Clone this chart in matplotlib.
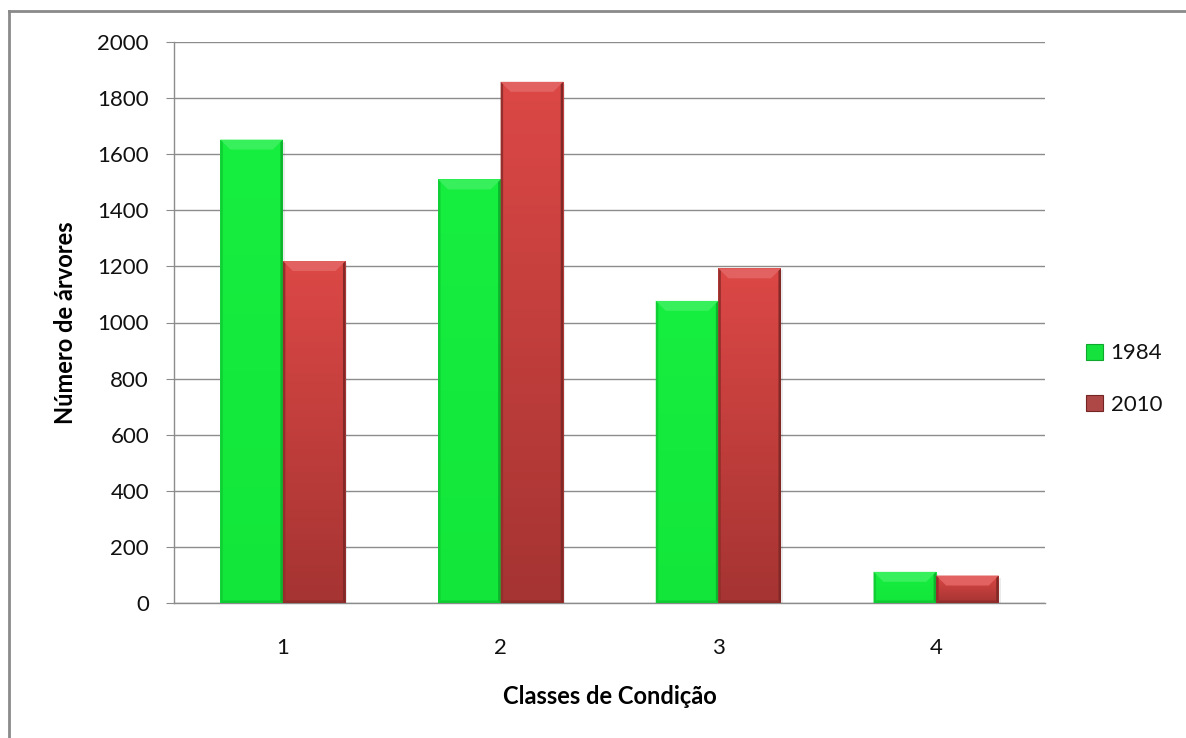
import numpy as np
import matplotlib
matplotlib.use("Agg")
import matplotlib.pyplot as plt
from matplotlib.patches import Polygon, Rectangle
from matplotlib.lines import Line2D

# Data
categories = ["1", "2", "3", "4"]
years = ["1984", "2010"]
values_1984 = [1652, 1510, 1077, 111]
values_2010 = [1219, 1858, 1193, 98]
yticks = [0, 200, 400, 600, 800, 1000, 1200, 1400, 1600, 1800, 2000]

plt.rcParams["font.family"] = ["Lato", "DejaVu Sans"]

W, H, DPI = 1186, 738, 100
fig = plt.figure(figsize=(W / DPI, H / DPI), dpi=DPI)
fig.patch.set_facecolor("white")

left, right, top, bottom = 174, 1045, 42, 603
ax = fig.add_axes([left / W, 1 - bottom / H, (right - left) / W, (bottom - top) / H])

x = np.arange(1, len(categories) + 1)
bw = 0.2875
ax.set_xlim(0.5, len(categories) + 0.5)
ax.set_ylim(0, 2000)

# pixel -> data conversion
px_x = (ax.get_xlim()[1] - ax.get_xlim()[0]) / (right - left)
px_y = (ax.get_ylim()[1] - ax.get_ylim()[0]) / (bottom - top)

styles = {
    "1984": dict(top=(22, 238, 64), bot=(18, 230, 58)),
    "2010": dict(top=(220, 72, 70), bot=(165, 52, 50)),
}


def mix(c, other, t):
    c = np.array(c, float)
    o = np.array(other, float)
    return tuple((c * (1 - t) + o * t) / 255.0)


def bevel_bars(xs, vals, style, zorder=3):
    bars = ax.bar(xs, vals, width=bw, color=mix(style["top"], style["top"], 0),
                  edgecolor="none", zorder=zorder)
    for b in bars:
        x0, w, h = b.get_x(), b.get_width(), b.get_height()
        x1 = x0 + w
        # soft shadow to the right
        sh = Rectangle((x0 + 2 * px_x, 0), w, h - 2 * px_y, facecolor=(0, 0, 0, 0.08),
                       edgecolor="none", zorder=zorder - 0.5)
        ax.add_patch(sh)
        # vertical gradient over the face
        n = 256
        t = np.linspace(0, 1, n)[:, None]
        topc = np.array(style["top"], float) / 255
        botc = np.array(style["bot"], float) / 255
        grad = (topc[None, None, :] * (1 - t[..., None]) + botc[None, None, :] * t[..., None])
        im = ax.imshow(grad, extent=(x0, x1, 0, h), origin="upper", aspect="auto",
                       zorder=zorder + 0.1, interpolation="bilinear")
        im.set_clip_path(b)
        bx = min(10 * px_x, w / 4)
        by = min(10 * px_y, h / 2)
        # top bevel (light)
        ax.add_patch(Polygon([(x0, h), (x1, h), (x1 - bx, h - by), (x0 + bx, h - by)],
                             closed=True, facecolor=mix(style["top"], (255, 255, 255), 0.14),
                             edgecolor="none", zorder=zorder + 0.2))
        # left edge
        ax.add_patch(Polygon([(x0, 0), (x0, h), (x0 + bx * 0.25, h - by * 0.25), (x0 + bx * 0.25, by * 0.1)],
                             closed=True, facecolor=mix(style["bot"], (0, 0, 0), 0.10),
                             edgecolor="none", zorder=zorder + 0.2))
        # right edge
        ax.add_patch(Polygon([(x1, 0), (x1, h), (x1 - bx * 0.25, h - by * 0.25), (x1 - bx * 0.25, by * 0.1)],
                             closed=True, facecolor=mix(style["bot"], (0, 0, 0), 0.22),
                             edgecolor="none", zorder=zorder + 0.2))
        # bottom edge
        byb = min(2.5 * px_y, h / 4)
        ax.add_patch(Polygon([(x0, 0), (x1, 0), (x1 - bx * 0.25, byb), (x0 + bx * 0.25, byb)],
                             closed=True, facecolor=mix(style["bot"], (0, 0, 0), 0.12),
                             edgecolor="none", zorder=zorder + 0.2))
    return bars


bevel_bars(x - bw / 2, values_1984, styles["1984"])
bevel_bars(x + bw / 2, values_2010, styles["2010"])

# Axes styling
grid_c = "#8c8c8c"
ax.set_yticks(yticks)
ax.set_xticks(x)
ax.set_xticklabels(categories)
ax.yaxis.grid(True, color=grid_c, linewidth=1.0, zorder=0)
ax.set_axisbelow(True)
for s in ["top", "right"]:
    ax.spines[s].set_visible(False)
for s in ["left", "bottom"]:
    ax.spines[s].set_color(grid_c)
    ax.spines[s].set_linewidth(1.0)
ax.tick_params(axis="y", length=6, color=grid_c, labelsize=16, pad=12, labelcolor="#111111")
ax.tick_params(axis="x", length=0, labelsize=16, pad=25, labelcolor="#111111")

ax.set_xlabel("Classes de Condição", fontsize=17, fontweight="bold", labelpad=20)
ax.set_ylabel("Número de árvores", fontsize=17, fontweight="bold", labelpad=15)

# Legend
handles = [Rectangle((0, 0), 1, 1, facecolor=mix(styles["1984"]["top"], (0, 0, 0), 0.05),
                     edgecolor=mix(styles["1984"]["top"], (0, 0, 0), 0.3), linewidth=0.8),
           Rectangle((0, 0), 1, 1, facecolor=mix(styles["2010"]["bot"], (255, 255, 255), 0.1),
                     edgecolor=mix(styles["2010"]["bot"], (0, 0, 0), 0.3), linewidth=0.8)]
leg = fig.legend(handles, years, loc="center left", bbox_to_anchor=(1075 / W, 1 - 379 / H),
                 frameon=False, fontsize=16, handlelength=0.75, handleheight=0.75,
                 handletextpad=0.35, labelspacing=1.4, borderpad=0)
for t in leg.get_texts():
    t.set_color("#111111")

# Chart area border (top and left edges)
fig.add_artist(Line2D([9 / W, 9 / W], [0, 1 - 11 / H], transform=fig.transFigure,
                      color="#8a8a8a", linewidth=2))
fig.add_artist(Line2D([9 / W, 1], [1 - 11 / H, 1 - 11 / H], transform=fig.transFigure,
                      color="#8a8a8a", linewidth=2))

fig.savefig("out.png", dpi=DPI)
